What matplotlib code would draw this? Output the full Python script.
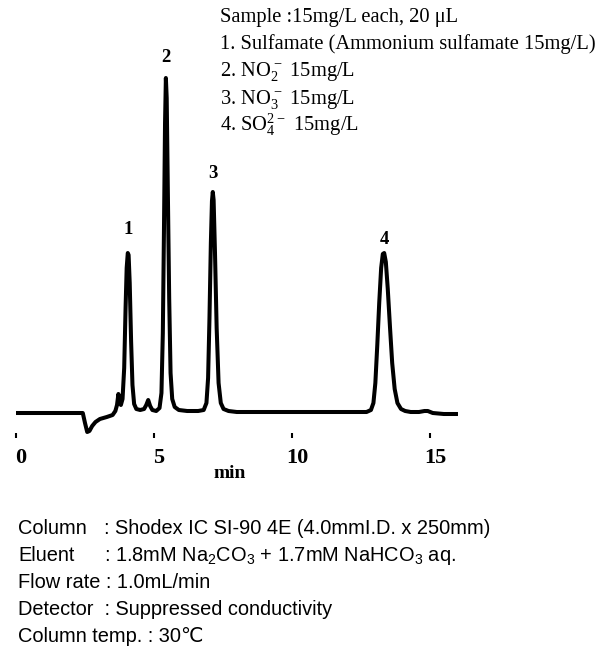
import matplotlib
matplotlib.use("Agg")
import matplotlib.pyplot as plt
import matplotlib.transforms as mtransforms

# Suppressed-conductivity trace: retention time (min) and detector signal (a.u.)
time_min = [
    0.00, 1.20, 2.42, 2.50, 2.58, 2.66, 2.76, 2.88, 3.04, 3.29, 3.50, 3.60,
    3.66, 3.71, 3.75, 3.80,
    3.86, 3.92, 3.97, 4.01, 4.05, 4.08, 4.12, 4.17, 4.22, 4.28, 4.36, 4.50, 4.64,
    4.72, 4.79, 4.86, 4.94, 5.08,
    5.20, 5.27, 5.32, 5.36, 5.40, 5.43, 5.46, 5.50, 5.55, 5.60, 5.66, 5.75, 5.90,
    6.20, 6.60,
    6.80, 6.90, 6.96, 7.01, 7.06, 7.10, 7.13, 7.16, 7.21, 7.27, 7.34, 7.42, 7.52,
    7.70, 8.00,
    10.00, 12.00, 12.70,
    12.86, 12.95, 13.02, 13.09, 13.16, 13.23, 13.29, 13.34, 13.40, 13.47, 13.55,
    13.63, 13.72, 13.82, 13.95, 14.10, 14.30, 14.60, 14.80, 14.92, 15.10, 15.50,
    16.00,
]
signal = [
    0, 0, 0, -10, -19, -18, -13, -9, -6, -4, -2, 2,
    8, 19, 14, 8,
    14, 45, 105, 145, 160, 158, 130, 72, 28, 9, 4, 3, 4,
    8, 13, 7, 3, 2,
    5, 20, 80, 180, 290, 335, 315, 225, 115, 40, 14, 6, 3,
    2, 2,
    3, 10, 35, 95, 170, 212, 221, 213, 160, 85, 30, 10, 4,
    2, 1,
    1, 1, 1,
    3, 10, 30, 68, 110, 145, 159, 160, 151, 124, 86,
    50, 24, 10, 4, 2, 1, 1, 2, 2, 0, -1,
    -1,
]

# Peak numbering and approximate retention times
peak_labels = ["1", "2", "3", "4"]
peak_times = [4.06, 5.43, 7.13, 13.34]

tick_values = [0, 5, 10, 15]
tick_labels = ["0", "5", "10", "15"]

sample_lines = [
    "Sample :15mg/L each, 20 \u03bcL",
    "1. Sulfamate (Ammonium sulfamate 15mg/L)",
    r"2. NO$\mathregular{_2^-}$ 15mg/L",
    r"3. NO$\mathregular{_3^-}$ 15mg/L",
    r"4. SO$\mathregular{_4^{2-}}$ 15mg/L",
]

condition_keys = ["Column", "Eluent"]
condition_vals = [
    ": Shodex IC SI-90 4E (4.0mmI.D. x 250mm)",
    r": 1.8mM Na$\mathregular{_2}$CO$\mathregular{_3}$ + 1.7mM NaHCO$\mathregular{_3}$ aq.",
]
condition_lines = [
    "Flow rate : 1.0mL/min",
    "Detector  : Suppressed conductivity",
    "Column temp. : 30\u2103",
]

W, H = 607, 648
fig = plt.figure(figsize=(W / 100, H / 100), dpi=100)

def fx(px):
    return px / W

def fy(py):
    return 1 - py / H

serif = ["Liberation Serif", "DejaVu Serif"]
sans = ["Liberation Sans", "DejaVu Sans"]

# Axes: t = 0..16 min, 1 signal unit per pixel
ax = fig.add_axes([fx(16), fy(448), fx(441.6), (448 - 48) / H])
ax.set_xlim(0, 16)
ax.set_ylim(-35, 365)
ax.plot(time_min, signal, color="black", lw=2.9,
        solid_joinstyle="round", solid_capstyle="round")

for side in ["top", "right", "left"]:
    ax.spines[side].set_visible(False)
ax.spines["bottom"].set_position(("data", -25))
ax.spines["bottom"].set_visible(False)
ax.set_yticks([])
ax.set_xticks(tick_values)
ax.set_xticklabels(tick_labels, family=serif, fontsize=16, fontweight="bold")
ax.tick_params(axis="x", direction="in", length=3.6, width=1.5, pad=7)
shift = mtransforms.ScaledTranslation(5 / 100, 0, fig.dpi_scale_trans)
for lab in ax.get_xticklabels():
    lab.set_transform(lab.get_transform() + shift)

# Peak numbers above each apex
label_offsets = [23, 21, 19, 14]
for lab, t0, off in zip(peak_labels, peak_times, label_offsets):
    apex = max(s for t, s in zip(time_min, signal) if abs(t - t0) < 0.2)
    ax.text(t0, apex + off, lab, ha="center", va="center",
            family=serif, fontsize=13.5, fontweight="bold")

fig.text(fx(230), fy(474), "min", ha="center", va="center",
         family=serif, fontsize=14, fontweight="bold")

# Sample description
for i, line in enumerate(sample_lines):
    fig.text(fx(220), fy(21.7 + 27.3 * i), line, ha="left", va="baseline",
             family=serif, fontsize=14.8)

# Chromatographic conditions
base = 534.3
step = 26.85
fs = 14.4
for i, (k, v) in enumerate(zip(condition_keys, condition_vals)):
    fig.text(fx(18), fy(base + step * i), k, ha="left", va="baseline",
             family=sans, fontsize=fs)
    fig.text(fx(104), fy(base + step * i), v, ha="left", va="baseline",
             family=sans, fontsize=fs)
for j, line in enumerate(condition_lines):
    fig.text(fx(18), fy(base + step * (j + 2)), line, ha="left", va="baseline",
             family=sans, fontsize=fs)

fig.savefig("out.png", dpi=100)
